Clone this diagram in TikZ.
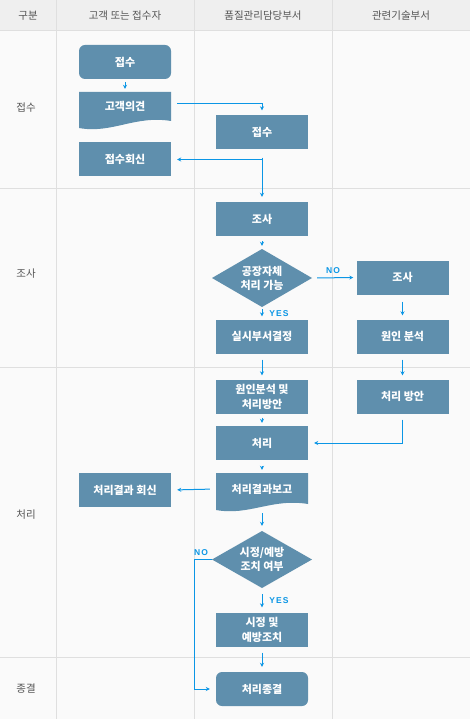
\documentclass[tikz,border=0pt]{standalone}
\usepackage{fontspec}
\setmainfont{Noto Sans CJK KR}
\newfontfamily\latfont[LetterSpace=12]{Liberation Sans}
\usetikzlibrary{arrows.meta}
\definecolor{boxfill}{HTML}{5F8FAD}
\definecolor{arrowblue}{HTML}{0B96E5}
\definecolor{headbg}{HTML}{EFEFEF}
\definecolor{bodybg}{HTML}{FAFAFA}
\definecolor{gridline}{HTML}{DFDFDF}
\definecolor{labeltext}{HTML}{555555}
\tikzset{
  box/.style={fill=boxfill, draw=none, minimum width=92pt, minimum height=34pt, inner sep=0pt,
    text=white, font=\fontsize{11}{14}\selectfont\bfseries, align=center},
  roundbox/.style={box, rounded corners=6pt},
  ghost/.style={draw=none, fill=none, minimum width=92pt, minimum height=34pt, inner sep=0pt,
    text=white, font=\fontsize{11}{14}\selectfont\bfseries, align=center},
  dia/.style={draw=none, fill=none, minimum width=100pt, minimum height=58pt, inner sep=0pt},
  diatext/.style={text=white, font=\fontsize{11}{14}\selectfont\bfseries, align=center, inner sep=0pt},
  arr/.style={draw=arrowblue, line width=1pt, -{Stealth[length=4pt,width=4pt]}},
  yn/.style={text=arrowblue, font=\fontsize{8.5}{10}\selectfont\latfont\bfseries, inner sep=0pt},
  headtext/.style={text=labeltext, font=\fontsize{10.5}{12}\selectfont},
  rowtext/.style={text=labeltext, font=\fontsize{10.5}{12}\selectfont},
}
\begin{document}
\begin{tikzpicture}[x=1pt,y=-1pt]
\useasboundingbox (0,0) rectangle (470,719);
% backgrounds
\fill[bodybg] (0,0) rectangle (470,719);
\fill[headbg] (0,0) rectangle (470,31);
% grid
\draw[gridline, line width=1pt] (0,31) -- (470,31);
\draw[gridline, line width=1pt] (0,189) -- (470,189);
\draw[gridline, line width=1pt] (0,367) -- (470,367);
\draw[gridline, line width=1pt] (0,657) -- (470,657);
\draw[gridline, line width=1pt] (56,0) -- (56,719);
\draw[gridline, line width=1pt] (194,0) -- (194,719);
\draw[gridline, line width=1pt] (332,0) -- (332,719);
% header
\node[headtext] (h0) at (28,15.5) {구분};
\node[headtext] (h1) at (125,15.5) {고객 또는 접수자};
\node[headtext] (h2) at (263,15.5) {품질관리담당부서};
\node[headtext] (h3) at (401,15.5) {관련기술부서};
% row labels
\node[rowtext] (l1) at (26,108) {접수};
\node[rowtext] (l2) at (26,274) {조사};
\node[rowtext] (l3) at (26,515) {처리};
\node[rowtext] (l4) at (26,689) {종결};

% column 1
\node[roundbox] (r1) at (125,62) {접수};
\fill[boxfill] (79,92) -- (171,92) -- (171,121)
  .. controls (135,115) and (112,134) .. (79,128) -- cycle;
\node[ghost, minimum height=28pt] (voc) at (125,106) {고객의견};
\node[box] (reply) at (125,159.5) {접수회신};
\node[box] (resreply) at (125,490) {처리결과 회신};

% column 2
\node[box] (q1) at (262,132.5) {접수};
\node[box] (inv) at (262,219) {조사};
\fill[boxfill] (262,249) -- (312,278) -- (262,307) -- (212,278) -- cycle;
\node[dia] (d1) at (262,278) {};
\node[diatext] (d1t) at (262,278) {공장자체\\처리 가능};
\node[box] (dept) at (262,336.5) {실시부서결정};
\node[box, font=\fontsize{11}{15}\selectfont\bfseries] (cause) at (262,396.5) {원인분석 및\\처리방안};
\node[box] (proc) at (262,443) {처리};
\fill[boxfill] (216,473) -- (308,473) -- (308,504)
  .. controls (272,498) and (249,516) .. (216,510) -- cycle;
\node[ghost] (report) at (262,489) {처리결과보고};
\fill[boxfill] (262,531) -- (312,559.5) -- (262,588) -- (212,559.5) -- cycle;
\node[dia, minimum height=57pt] (d2) at (262,559.5) {};
\node[diatext] (d2t) at (262,559.5) {시정/예방\\조치 여부};
\node[box, font=\fontsize{11}{15}\selectfont\bfseries] (fix) at (262,629.5) {시정 및\\예방조치};
\node[roundbox] (close) at (262,689) {처리종결};

% column 3
\node[box] (inv2) at (402.5,277.5) {조사};
\node[box] (anal) at (402.5,336.5) {원인 분석};
\node[box] (plan) at (402.5,396.5) {처리 방안};

% connectors
\draw[arr, shorten <=3pt, shorten >=3pt] (r1.south) -- (voc.north);
\draw[arr, shorten <=6pt, shorten >=5pt] ([yshift=2pt]voc.east) -| (q1.north);
\draw[arr, shorten <=8pt, shorten >=5pt] (q1.south) -- (inv.north);
\draw[arr, shorten >=6pt] (q1.south |- reply.east) -- (reply.east);
\draw[arr, shorten <=5pt, shorten >=3pt] (inv.south) -- (d1.north);
\draw[arr, shorten <=5pt, shorten >=3pt] (d1.east) -- (inv2.west);
\node[yn] (no1) at (333,271) {NO};
\draw[arr, shorten <=2pt, shorten >=3pt] (d1.south) -- (dept.north);
\node[yn] (yes1) at (279,313.5) {YES};
\draw[arr, shorten <=6pt, shorten >=4pt] (dept.south) -- (cause.north);
\draw[arr, shorten <=7pt, shorten >=4pt] (inv2.south) -- (anal.north);
\draw[arr, shorten <=6pt, shorten >=4pt] (anal.south) -- (plan.north);
\draw[arr, shorten <=4pt, shorten >=3pt] (cause.south) -- (proc.north);
\draw[arr, shorten <=6pt, shorten >=6pt] (plan.south) |- (proc.east);
\draw[arr, shorten <=6pt, shorten >=2pt] (proc.south) -- (report.north);
\draw[arr, shorten <=6pt, shorten >=6pt] (report.west) -- (resreply.east);
\draw[arr, shorten <=7pt, shorten >=5pt] (report.south) -- (d2.north);
\draw[arr, shorten <=6pt, shorten >=5pt] (d2.south) -- (fix.north);
\node[yn] (yes2) at (279,600.5) {YES};
\draw[arr, shorten <=6pt, shorten >=5pt] (fix.south) -- (close.north);
\draw[arr, shorten >=6pt] (d2.west) -- ++(-17,0) |- (close.west);
\node[yn] (no2) at (201,553) {NO};
\end{tikzpicture}
\end{document}
